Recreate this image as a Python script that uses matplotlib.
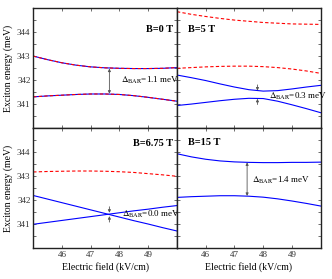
import numpy as np
import matplotlib
matplotlib.use("Agg")
import matplotlib.pyplot as plt
from matplotlib.ticker import MultipleLocator

plt.rcParams['font.family'] = ['Liberation Serif', 'DejaVu Serif']
plt.rcParams['mathtext.fontset'] = 'stix'

# electric field samples (kV/cm)
field = [45.0, 45.5, 46.0, 46.5, 47.0, 47.5, 48.0, 48.5, 49.0, 49.5, 50.0]

# B = 0 T
b0_upper = [343.00, 342.85, 342.72, 342.62, 342.55, 342.51, 342.49, 342.48, 342.48, 342.49, 342.52]
b0_lower = [341.30, 341.34, 341.37, 341.40, 341.42, 341.42, 341.40, 341.35, 341.28, 341.20, 341.12]

# B = 5 T
b5_red_top = [344.85, 344.74, 344.65, 344.57, 344.50, 344.45, 344.40, 344.37, 344.34, 344.33, 344.32]
b5_red_mid = [342.49, 342.52, 342.55, 342.57, 342.58, 342.58, 342.56, 342.52, 342.46, 342.38, 342.28]
b5_blue_up = [342.21, 342.10, 341.98, 341.84, 341.71, 341.60, 341.54, 341.56, 341.63, 341.71, 341.78]
b5_blue_lo = [340.94, 341.00, 341.07, 341.14, 341.20, 341.24, 341.23, 341.12, 340.97, 340.81, 340.64]

# B = 6.75 T
b675_red = [343.17, 343.19, 343.20, 343.21, 343.21, 343.20, 343.18, 343.15, 343.10, 343.05, 342.99]
b675_dec = [342.19, 342.04, 341.89, 341.74, 341.59, 341.44, 341.29, 341.14, 341.00, 340.85, 340.71]
b675_inc = [340.99, 341.07, 341.15, 341.23, 341.31, 341.39, 341.47, 341.55, 341.62, 341.70, 341.77]

# B = 15 T
b15_upper = [343.93, 343.80, 343.70, 343.63, 343.59, 343.57, 343.56, 343.56, 343.57, 343.57, 343.58]
b15_lower = [342.11, 342.14, 342.16, 342.18, 342.18, 342.16, 342.12, 342.05, 341.96, 341.86, 341.75]

fig, axes = plt.subplots(2, 2, figsize=(3.32, 2.79), dpi=100, sharex=True, sharey=True)
plt.subplots_adjust(left=0.1, right=0.966, top=0.971, bottom=0.111, hspace=0, wspace=0)

lw = 0.8
blue = '#0000ff'
red = '#ff0000'
arrow_col = '#555555'

ax = axes[0, 0]
ax.plot(field, b0_upper, color=blue, lw=lw)
ax.plot(field, b0_upper, color=red, lw=lw, ls=(0, (3, 2)))
ax.plot(field, b0_lower, color=blue, lw=lw)
ax.plot(field, b0_lower, color=red, lw=lw, ls=(0, (3, 2)))
ax.annotate('', xy=(47.65, 342.48), xytext=(47.65, 341.43),
            arrowprops=dict(arrowstyle='<|-|>', color=arrow_col, lw=0.6, mutation_scale=4, shrinkA=0, shrinkB=0))
ax.text(48.05, 342.0, r'$\Delta_{\rm BAR}$=1.1 meV', fontsize=6.5, va='center')
ax.text(49.85, 344.1, 'B=0 T', fontsize=7.5, fontweight='bold', ha='right', va='center')

ax = axes[0, 1]
ax.plot(field, b5_red_top, color=red, lw=lw, ls=(0, (3, 2)))
ax.plot(field, b5_red_mid, color=red, lw=lw, ls=(0, (3, 2)))
ax.plot(field, b5_blue_up, color=blue, lw=lw)
ax.plot(field, b5_blue_lo, color=blue, lw=lw)
ax.annotate('', xy=(47.8, 341.56), xytext=(47.8, 341.8),
            arrowprops=dict(arrowstyle='-|>', color=arrow_col, lw=0.6, mutation_scale=4, shrinkA=0, shrinkB=0))
ax.annotate('', xy=(47.8, 341.22), xytext=(47.8, 340.98),
            arrowprops=dict(arrowstyle='-|>', color=arrow_col, lw=0.6, mutation_scale=4, shrinkA=0, shrinkB=0))
ax.text(48.2, 341.3, r'$\Delta_{\rm BAR}$=0.3 meV', fontsize=6.5, va='center')
ax.text(45.4, 344.1, 'B=5 T', fontsize=7.5, fontweight='bold', ha='left', va='center')

ax = axes[1, 0]
ax.plot(field, b675_red, color=red, lw=lw, ls=(0, (3, 2)))
ax.plot(field, b675_dec, color=blue, lw=lw)
ax.plot(field, b675_inc, color=blue, lw=lw)
ax.annotate('', xy=(47.65, 341.47), xytext=(47.65, 341.72),
            arrowprops=dict(arrowstyle='-|>', color=arrow_col, lw=0.6, mutation_scale=4, shrinkA=0, shrinkB=0))
ax.annotate('', xy=(47.65, 341.33), xytext=(47.65, 341.08),
            arrowprops=dict(arrowstyle='-|>', color=arrow_col, lw=0.6, mutation_scale=4, shrinkA=0, shrinkB=0))
ax.text(48.1, 341.42, r'$\Delta_{\rm BAR}$=0.0 meV', fontsize=6.5, va='center')
ax.text(49.85, 344.35, 'B=6.75 T', fontsize=7.5, fontweight='bold', ha='right', va='center')

ax = axes[1, 1]
ax.plot(field, b15_upper, color=blue, lw=lw)
ax.plot(field, b15_lower, color=blue, lw=lw)
ax.annotate('', xy=(47.44, 343.57), xytext=(47.44, 342.17),
            arrowprops=dict(arrowstyle='<|-|>', color=arrow_col, lw=0.6, mutation_scale=4, shrinkA=0, shrinkB=0))
ax.text(47.6, 342.8, r'$\Delta_{\rm BAR}$=1.4 meV', fontsize=6.5, va='center')
ax.text(45.4, 344.4, 'B=15 T', fontsize=7.5, fontweight='bold', ha='left', va='center')

for a in axes.flat:
    a.set_xlim(45, 50)
    a.set_ylim(340, 345)
    a.xaxis.set_major_locator(MultipleLocator(1))
    a.yaxis.set_major_locator(MultipleLocator(1))
    a.yaxis.set_minor_locator(MultipleLocator(0.5))
    a.tick_params(which='both', direction='in', top=True, right=True, length=2, width=0.5,
                  labelsize=6.5, pad=2, colors='#333333', labelcolor='#333333')
    for s in a.spines.values():
        s.set_linewidth(1.0)
        s.set_color('#222222')

axes[1, 0].set_xticks([46, 47, 48, 49])
for a in axes[:, 0]:
    a.set_yticks([341, 342, 343, 344])
    a.set_ylabel('Exciton energy (meV)', fontsize=7, labelpad=3)
for a in axes[1, :]:
    a.set_xlabel('Electric field (kV/cm)', fontsize=7, labelpad=2)

fig.savefig('out.png', dpi=100)
